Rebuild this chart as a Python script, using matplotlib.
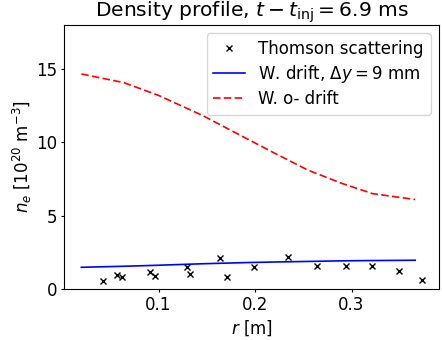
import numpy as np
import matplotlib
matplotlib.use("Agg")
import matplotlib.pyplot as plt

plt.rcParams['font.size'] = 12
plt.rcParams['xtick.major.size'] = 2.5
plt.rcParams['ytick.major.size'] = 2.5
plt.rcParams['xtick.major.pad'] = 2.6
plt.rcParams['ytick.major.pad'] = 2.6
plt.rcParams['lines.linewidth'] = 1.2

# Thomson scattering measurements
r_ts = [0.0425, 0.057, 0.0622, 0.0907, 0.0966, 0.1294, 0.1328, 0.1638,
        0.1707, 0.199, 0.2344, 0.2638, 0.2941, 0.3217, 0.3489, 0.373]
ne_ts = [0.57, 0.96, 0.84, 1.14, 0.89, 1.53, 1.03, 2.10,
         0.84, 1.53, 2.17, 1.55, 1.60, 1.55, 1.21, 0.64]

# model profiles
r_model = [0.02, 0.064, 0.10, 0.145, 0.19, 0.22, 0.255, 0.29, 0.322, 0.366]
ne_drift = [1.48, 1.55, 1.62, 1.72, 1.80, 1.84, 1.88, 1.92, 1.94, 1.96]
ne_nodrift = [14.66, 14.07, 13.2, 11.85, 10.3, 9.27, 8.1, 7.2, 6.5, 6.1]

fig = plt.figure(figsize=(4.42, 3.40), dpi=100)
ax = fig.add_subplot(111)
fig.subplots_adjust(left=0.1455, right=0.9932, bottom=0.15, top=0.9265)

ax.plot(r_ts, ne_ts, 'kx', markersize=4.3, label='Thomson scattering')
ax.plot(r_model, ne_drift, 'b-', label=r'W. drift, $\Delta y = 9$ mm')
ax.plot(r_model, ne_nodrift, 'r--', dashes=(4.5, 2.0), label='W. o- drift')

ax.set_ylim(0, 18)
ax.set_xlabel(r'$r$ [m]', labelpad=3)
ax.set_ylabel(r'$n_e$ [$10^{20}$ m$^{-3}$]', labelpad=1.5)
ax.set_title(r'Density profile, $t-t_{\rm inj}=6.9$ ms', fontsize=14.6, pad=1.5)
ax.legend(loc='upper right', labelspacing=0.3, handlelength=1.9)

fig.savefig("out.png", dpi=100)
